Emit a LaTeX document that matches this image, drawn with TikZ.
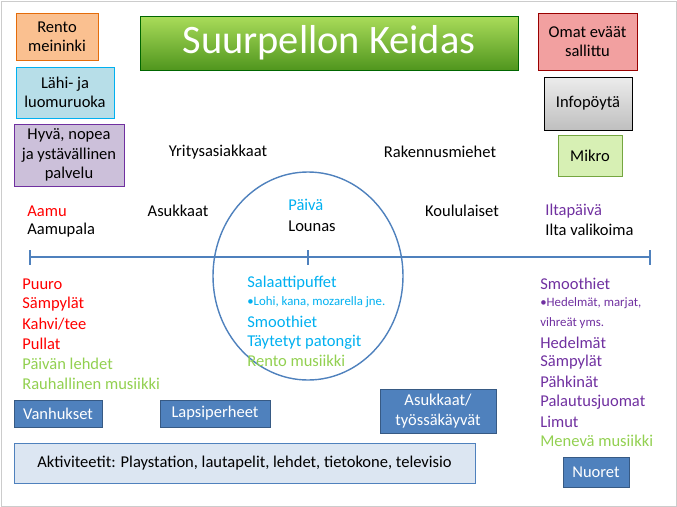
\documentclass[tikz,border=0pt]{standalone}
\usepackage{fontspec}
\usetikzlibrary{shapes.geometric}
\setmainfont{Carlito}
\definecolor{cy}{HTML}{00B0F0}
\definecolor{pu}{HTML}{7030A0}
\definecolor{gr}{HTML}{92D050}
\definecolor{bl}{HTML}{4F81BD}
\begin{document}
\begin{tikzpicture}[x=0.02cm,y=-0.02cm,
  txt/.style={anchor=west,inner sep=0pt,font=\fontsize{9.4}{10.5}\selectfont},
  sm/.style={anchor=west,inner sep=0pt,font=\fontsize{7.3}{8}\selectfont},
  box/.style={draw,align=center,inner sep=1pt,font=\fontsize{9.4}{11}\selectfont},
  bbox/.style={draw=bl!70!black,fill=bl,text=white,align=center,inner sep=1pt,font=\fontsize{9.4}{11}\selectfont}]
\useasboundingbox (0,0) rectangle (677,507);
\draw[gray!40] (1,1) rectangle (676,506);
\node[draw=green!40!black,top color={rgb,255:red,170;green,220;blue,90},bottom color={rgb,255:red,80;green,150;blue,30},minimum width=378*0.02cm,minimum height=54*0.02cm,text=white,font=\fontsize{23}{25}\selectfont] (title) at (329,43) {Suurpellon Keidas};
\node[box,fill={rgb,255:red,250;green,192;blue,144},draw={rgb,255:red,228;green,108;blue,10},minimum width=82*0.02cm,minimum height=47*0.02cm] (rento) at (57,36.5) {Rento\\meininki};
\node[box,fill={rgb,255:red,183;green,222;blue,232},draw=cy,minimum width=98*0.02cm,minimum height=51*0.02cm] (lahi) at (65,92.5) {Lähi- ja\\luomuruoka};
\node[box,fill={rgb,255:red,204;green,192;blue,218},draw=pu,minimum width=110*0.02cm,minimum height=62*0.02cm] (hyva) at (69,155) {Hyvä, nopea\\ja ystävällinen\\palvelu};
\node[box,fill={rgb,255:red,242;green,160;blue,160},draw=red!60!black,minimum width=99*0.02cm,minimum height=57*0.02cm] (omat) at (587.5,41.5) {Omat eväät\\sallittu};
\node[box,top color=gray!15,bottom color=gray!50,draw=black,minimum width=88*0.02cm,minimum height=53*0.02cm] (info) at (588,103.5) {Infopöytä};
\node[box,fill={rgb,255:red,215;green,240;blue,180},draw=gr!80!black,minimum width=64*0.02cm,minimum height=41*0.02cm] (mikro) at (590,155.5) {Mikro};
\node[txt,anchor=center] (yr) at (218,152) {Yritysasiakkaat};
\node[txt,anchor=center] (rak) at (440,152) {Rakennusmiehet};
\node[txt,text=red] (aamu) at (27,211) {Aamu};
\node[txt] (aamup) at (27,230) {Aamupala};
\node[txt,anchor=center] (asuk) at (178,211) {Asukkaat};
\node[txt,text=cy] (paiva) at (288,205) {Päivä};
\node[txt] (lounas) at (288,226) {Lounas};
\node[txt,anchor=center] (koulu) at (462,211) {Koululaiset};
\node[txt,text=pu] (ilta) at (545,211) {Iltapäivä};
\node[txt] (iltav) at (545,230) {Ilta valikoima};
\coordinate (l0) at (30,257); \coordinate (l1) at (308,257); \coordinate (l2) at (650,257);
\draw[bl,thick] (l0) -- (l2);
\foreach \p in {l0,l1,l2} \draw[bl,thick] ([yshift=0.14cm]\p) -- ([yshift=-0.16cm]\p);
\node[draw=bl,thick,ellipse,minimum width=190*0.02cm,minimum height=208*0.02cm,inner sep=0pt] (el) at (308,276) {};
\node[txt,text=red] (a1) at (22,284) {Puuro};
\node[txt,text=red] (a2) at (22,304) {Sämpylät};
\node[txt,text=red] (a3) at (22,324) {Kahvi/tee};
\node[txt,text=red] (a4) at (22,344) {Pullat};
\node[txt,text=gr] (a5) at (22,364) {Päivän lehdet};
\node[txt,text=gr] (a6) at (22,384) {Rauhallinen musiikki};
\node[txt,text=cy] (b1) at (247,283) {Salaattipuffet};
\node[sm,text=cy] (b2) at (247,302) {•Lohi, kana, mozarella jne.};
\node[txt,text=cy] (b3) at (247,322) {Smoothiet};
\node[txt,text=cy] (b4) at (247,342) {Täytetyt patongit};
\node[txt,text=gr] (b5) at (247,361) {Rento musiikki};
\node[txt,text=pu] (c1) at (540,284) {Smoothiet};
\node[sm,text=pu] (c2) at (540,303) {•Hedelmät, marjat,};
\node[sm,text=pu] (c3) at (540,323) {vihreät yms.};
\node[txt,text=pu] (c4) at (540,343) {Hedelmät};
\node[txt,text=pu] (c5) at (540,362) {Sämpylät};
\node[txt,text=pu] (c6) at (540,382) {Pähkinät};
\node[txt,text=pu] (c7) at (540,402) {Palautusjuomat};
\node[txt,text=pu] (c8) at (540,422) {Limut};
\node[txt,text=gr] (c9) at (540,441) {Menevä musiikki};
\node[bbox,minimum width=88*0.02cm,minimum height=27*0.02cm] (van) at (58,413.5) {Vanhukset};
\node[bbox,minimum width=110*0.02cm,minimum height=27*0.02cm] (lap) at (215,413.5) {Lapsiperheet};
\node[bbox,minimum width=116*0.02cm,minimum height=44*0.02cm] (tyo) at (438,411) {Asukkaat/\\työssäkäyvät};
\node[bbox,minimum width=66*0.02cm,minimum height=30*0.02cm] (nuo) at (596,472) {Nuoret};
\node[box,fill={rgb,255:red,220;green,230;blue,242},draw=bl,minimum width=461*0.02cm,minimum height=40*0.02cm] (akt) at (244.5,463) {Aktiviteetit: Playstation, lautapelit, lehdet, tietokone, televisio};
\end{tikzpicture}
\end{document}
